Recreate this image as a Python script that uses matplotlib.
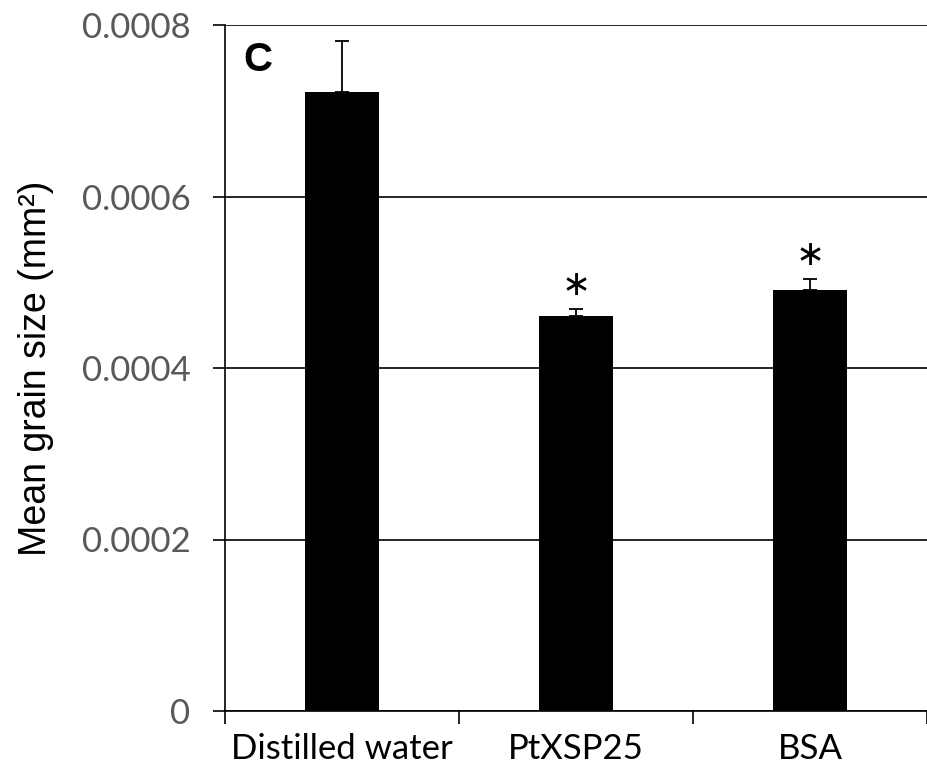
import numpy as np
import matplotlib.pyplot as plt

# data
treatments = ['Distilled water', 'PtXSP25', 'BSA']
grain_size = [0.000722, 0.000461, 0.000491]
grain_err = [0.000059, 0.000008, 0.000013]
signif = ['', '\u2217', '\u2217']
y_ticks = [0, 0.0002, 0.0004, 0.0006, 0.0008]
y_labels = ['0', '0.0002', '0.0004', '0.0006', '0.0008']

fig = plt.figure(figsize=(9.27, 7.71), dpi=100)
ax = fig.add_axes([225/927, 60/771, 1 - 225/927, 686/771])

x = np.arange(len(treatments))
ax.bar(x, grain_size, width=0.315, color='black', zorder=3)
ax.errorbar(x, grain_size, yerr=[np.zeros(3), grain_err], fmt='none',
            ecolor='black', elinewidth=1.3, capsize=5, capthick=1.3, zorder=4)

# significance asterisks
for xi, v, e, s in zip(x, grain_size, grain_err, signif):
    if s:
        ax.text(xi, v + e + 0.000016, s, ha='center', va='baseline',
                fontsize=25, family='DejaVu Sans')

ax.text(-0.36, 0.000759, 'C', fontsize=29, fontweight='bold',
        family='Liberation Sans', ha='center', va='center')

ax.set_xlim(-0.5, 2.487)
ax.set_ylim(0, 0.0008)
ax.set_yticks(y_ticks)
ax.set_yticklabels(y_labels, family='Lato', fontsize=25, color='#595959')
ax.yaxis.grid(True, color='black', linewidth=1.2, zorder=0)
ax.tick_params(axis='y', length=9, width=1.2, pad=16)

ax.set_xticks([-0.5, 0.5, 1.5, 2.5])
ax.set_xticklabels([])
ax.set_xticks(x, minor=True)
ax.set_xticklabels(treatments, minor=True, family='Lato', fontsize=25)
ax.tick_params(axis='x', which='major', length=9, width=1.2)
ax.tick_params(axis='x', which='minor', length=0, pad=16)

for sp in ['top', 'right']:
    ax.spines[sp].set_visible(False)
ax.spines['left'].set_linewidth(1.2)
ax.spines['bottom'].set_linewidth(1.2)

ax.set_ylabel('Mean grain size (mm\u00b2)', family='Liberation Sans',
              fontsize=27, labelpad=20)

fig.savefig('out.png', dpi=100)
